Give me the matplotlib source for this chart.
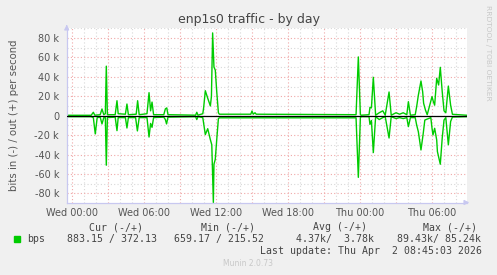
import numpy as np
import matplotlib
matplotlib.use('Agg')
import matplotlib.pyplot as plt
from matplotlib.patches import Rectangle

# hours since Wed 00:00, values in kbit/s
out_t = [-0.45, 1.6, 1.78, 1.9, 2.35, 2.5, 2.65, 2.78, 2.86, 2.95, 3.6, 3.75, 3.85,
         4.45, 4.58, 4.7, 5.35, 5.47, 5.6, 6.25, 6.42, 6.55, 6.67, 6.8, 7.65, 7.78,
         7.9, 8.0, 10.3, 10.4, 10.5, 10.9, 10.97, 11.11, 11.31, 11.53, 11.62, 11.72,
         11.83, 11.94, 12.06, 12.2, 12.28, 14.9, 15.0, 15.1, 15.25, 15.35, 23.67,
         23.86, 24.03, 24.1, 24.75, 24.83, 24.95, 25.11, 25.3, 25.6, 25.9, 26.1,
         26.42, 26.6, 27.0, 27.3, 27.6, 27.9, 28.03, 28.2, 28.6, 28.72, 28.86, 29.08,
         29.22, 29.3, 29.45, 29.6, 30.0, 30.1, 30.22, 30.39, 30.55, 30.69, 30.85,
         31.0, 31.15, 31.36, 31.55, 31.7, 32.94]
out_v = [0.4, 0.4, 3.5, 0.5, 1.0, 6.9, 1.0, 2.0, 51.0, 1.0, 1.0, 15.4, 2.0,
         1.5, 12.0, 1.0, 1.5, 15.4, 1.0, 2.0, 23.7, 5.0, 14.0, 1.0, 1.0, 7.0,
         8.0, 1.0, 0.5, 3.5, 0.5, 2.0, 8.0, 25.7, 18.0, 10.0, 20.0, 85.24,
         50.0, 47.0, 25.0, 3.0, 1.5, 1.5, 4.8, 1.5, 3.0, 1.5, 1.0,
         60.5, 1.0, 0.5, 1.0, 8.6, 8.0, 39.5, 0.5, 3.0, 5.0, 0.5,
         24.4, 0.5, 3.0, 1.5, 3.0, 1.0, 14.4, 0.5, 1.0, 9.3, 21.0, 35.7,
         24.7, 12.8, 5.9, 1.0, 19.6, 15.0, 10.8, 38.5, 31.6, 49.8, 24.7,
         5.0, 3.0, 30.5, 10.8, 1.4, 0.4]

in_t = [-0.45, 1.6, 1.78, 1.94, 2.1, 2.35, 2.5, 2.65, 2.78, 2.86, 2.95, 3.6, 3.75,
        3.85, 4.45, 4.58, 4.7, 5.3, 5.45, 5.6, 6.25, 6.42, 6.55, 6.67, 6.8, 7.65,
        7.78, 7.88, 8.0, 10.3, 10.4, 10.5, 10.9, 11.11, 11.31, 11.53, 11.65, 11.78,
        11.83, 11.94, 12.06, 12.2, 12.28, 23.67, 23.86, 24.03, 24.1, 24.75, 24.83,
        24.95, 25.11, 25.3, 25.6, 25.9, 26.1, 26.42, 26.6, 27.0, 27.3, 27.6, 27.9,
        28.03, 28.2, 28.6, 28.72, 28.86, 29.08, 29.25, 29.3, 29.4, 29.9, 30.0,
        30.08, 30.22, 30.39, 30.45, 30.69, 30.85, 31.0, 31.15, 31.36, 31.55, 31.7,
        32.94]
in_v = [-1.0, -1.0, -2.0, -18.8, -2.0, -1.5, -8.5, -2.0, -2.0, -51.0, -2.0, -1.5, -15.4,
        -2.0, -2.0, -12.7, -2.0, -2.0, -15.7, -2.0, -2.0, -22.0, -8.0, -12.0, -2.0, -1.5,
        -4.0, -8.5, -1.5, -1.0, -4.0, -1.0, -2.0, -19.5, -13.4, -24.7, -30.0, -89.43,
        -50.0, -45.0, -25.0, -3.0, -2.2, -2.2, -63.5, -2.0, -1.0, -1.0, -9.0,
        -5.0, -38.0, -1.0, -4.0, -2.0, -1.0, -23.0, -1.0, -3.0, -2.0, -3.0, -2.0,
        -11.3, -2.0, -2.0, -9.6, -16.5, -35.3, -20.0, -15.0, -4.5, -2.0, -13.0,
        -19.9, -13.0, -25.0, -37.0, -50.0, -23.0, -4.5, -2.0, -30.0, -6.0, -1.4,
        -1.0]

xtick_pos = [0, 6, 12, 18, 24, 30]
xtick_lab = ['Wed 00:00', 'Wed 06:00', 'Wed 12:00', 'Wed 18:00', 'Thu 00:00', 'Thu 06:00']
ytick_pos = [-80, -60, -40, -20, 0, 20, 40, 60, 80]
ytick_lab = ['-80 k', '-60 k', '-40 k', '-20 k', '0', '20 k', '40 k', '60 k', '80 k']

W, H = 497, 275
fig = plt.figure(figsize=(W / 100, H / 100), dpi=100, facecolor='#f0f0f0')
ax = fig.add_axes([66.7 / W, 1 - 202.5 / H, 400.6 / W, 174.5 / H])
ax.set_facecolor('white')
ax.set_xlim(-0.44, 32.94)
ax.set_ylim(-89.43, 90.3)

# grid: minor gray, major red (3h / 20k)
gdash = (0, (1, 2))
for h in np.arange(0, 33, 1):
    c = '#f0a8a8' if h % 3 == 0 else '#d8d8d8'
    ax.axvline(h, color=c, lw=0.8, ls=gdash, zorder=0)
for v in np.arange(-80, 91, 10):
    c = '#f0a8a8' if v % 20 == 0 else '#d8d8d8'
    ax.axhline(v, color=c, lw=0.8, ls=gdash, zorder=0)

ax.plot(out_t, out_v, color='#00cc00', lw=1.0, zorder=2)
ax.plot(in_t, in_v, color='#00cc00', lw=1.0, zorder=2)
ax.axhline(0, color='black', lw=0.9, zorder=3)

ax.set_xticks(xtick_pos)
ax.set_xticklabels(xtick_lab)
ax.set_yticks(ytick_pos)
ax.set_yticklabels(ytick_lab)
ax.tick_params(length=0, labelsize=7, colors='#555555')
ax.tick_params(axis='x', pad=4)
ax.tick_params(axis='y', pad=5.5)
ax.set_ylabel('bits in (-) / out (+) per second', fontsize=7.3, color='#555555', labelpad=11)

for s in ['top', 'right']:
    ax.spines[s].set_visible(False)
for s in ['left', 'bottom']:
    ax.spines[s].set_color('#c8c8f0')
    ax.spines[s].set_linewidth(0.9)
ax.annotate('', xy=(0, 1.035), xytext=(0, 0.99), xycoords='axes fraction',
            arrowprops=dict(arrowstyle='-|>', color='#c8c8f0', lw=0.9, mutation_scale=7))
ax.annotate('', xy=(1.012, 0), xytext=(0.99, 0), xycoords='axes fraction',
            arrowprops=dict(arrowstyle='-|>', color='#c8c8f0', lw=0.9, mutation_scale=7))

def fx(px):
    return px / W

def fy(py):
    return 1 - py / H

fig.text(fx(249), fy(23.3), 'enp1s0 traffic - by day', ha='center', va='baseline',
         fontsize=9, color='#444444')
fig.text(fx(488), fy(5), 'RRDTOOL / TOBI OETIKER', rotation=-90, ha='center', va='top',
         fontsize=5.4, color='#c8c8c8')

mono = dict(family='DejaVu Sans Mono', fontsize=7.1, color='#444444', va='center')
fig.text(fx(89), fy(227), 'Cur (-/+)', **mono)
fig.text(fx(201), fy(227), 'Min (-/+)', **mono)
fig.text(fx(313), fy(227), 'Avg (-/+)', **mono)
fig.text(fx(423), fy(227), 'Max (-/+)', **mono)
fig.add_artist(Rectangle((fx(14), fy(241.7)), 5.5 / W, 5.5 / H, transform=fig.transFigure,
                         color='#00cc00'))
fig.text(fx(27), fy(239), 'bps', **mono)
fig.text(fx(67), fy(239), '883.15 / 372.13', **mono)
fig.text(fx(174), fy(239), '659.17 / 215.52', **mono)
fig.text(fx(296), fy(239), '4.37k/  3.78k', **mono)
fig.text(fx(397), fy(239), '89.43k/ 85.24k', **mono)
fig.text(fx(482), fy(251), 'Last update: Thu Apr  2 08:45:03 2026', ha='right', **mono)
fig.text(fx(248), fy(264), 'Munin 2.0.73', ha='center', va='center', fontsize=5.5,
         color='#c8c8c8')

fig.savefig('out.png', dpi=100, facecolor=fig.get_facecolor())
